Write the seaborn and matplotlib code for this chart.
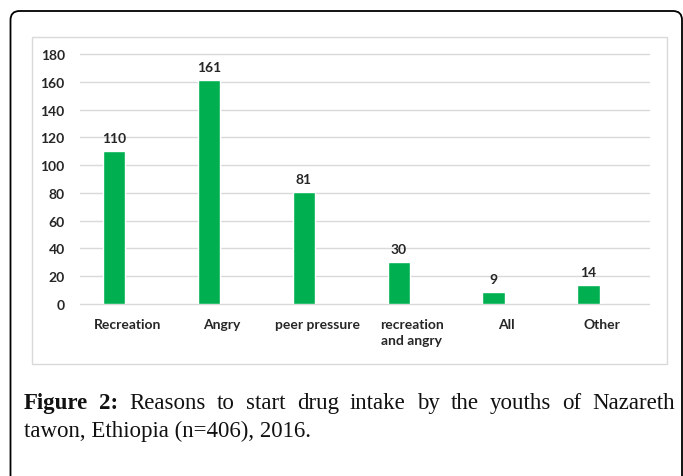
import matplotlib
matplotlib.use("Agg")
import matplotlib.pyplot as plt
import seaborn as sns
import pandas as pd
from matplotlib.patches import FancyBboxPatch, Rectangle

# ---- data ----
categories = ["Recreation", "Angry", "peer pressure", "recreation\nand angry", "All", "Other"]
counts = [110, 161, 81, 30, 9, 14]
y_ticks = [0, 20, 40, 60, 80, 100, 120, 140, 160, 180]
caption_bold = "Figure 2:"
caption_line1 = "Reasons to start drug intake by the youths of Nazareth"
caption_line2 = "tawon, Ethiopia (n=406), 2016."

# ---- layout / style ----
W, H = 683, 477
BAR_COLOR = "#00b050"
TEXT_COLOR = "#262626"
GRID_COLOR = "#d9d9d9"
BAR_WIDTH = 0.235
BAR_SHIFT = -0.139

sns.set_theme(style="white")
plt.rcParams['font.family'] = ['Lato', 'DejaVu Sans']

fig = plt.figure(figsize=(W / 100, H / 100), dpi=100)
fig.patch.set_facecolor('white')

# overlay axes in pixel coordinates (y downward)
ov = fig.add_axes([0, 0, 1, 1], zorder=0)
ov.set_xlim(0, W)
ov.set_ylim(H, 0)
ov.axis('off')
ov.add_patch(FancyBboxPatch((10.5, 12), 671.5, 540,
                            boxstyle="round,pad=0,rounding_size=9",
                            fill=False, ec='black', lw=1.3))
ov.add_patch(Rectangle((32, 38), 635, 327, fill=False, ec=GRID_COLOR, lw=1))

# main chart
ax = fig.add_axes([80 / W, 1 - 305 / H, 569 / W, 250 / H], zorder=1)
ax.patch.set_alpha(0)
df = pd.DataFrame({"reason": categories, "count": counts})
sns.barplot(data=df, x="reason", y="count", color=BAR_COLOR, saturation=1,
            width=BAR_WIDTH, errorbar=None, ax=ax, zorder=3)
for p in ax.patches:
    p.set_x(p.get_x() + BAR_SHIFT)

ax.bar_label(ax.containers[0], fontsize=10, fontweight='bold', color=TEXT_COLOR, padding=5)

ax.set_xlim(-0.5, len(categories) - 0.5)
ax.set_ylim(0, 180)
ax.set_yticks(y_ticks)
ax.set_xlabel('')
ax.set_ylabel('')
for s in ax.spines.values():
    s.set_visible(False)
ax.yaxis.grid(True, color=GRID_COLOR, lw=1)
ax.xaxis.grid(False)
ax.set_axisbelow(True)
for gl in ax.get_ygridlines():
    gl.set_clip_on(False)
ax.tick_params(axis='both', length=0, labelsize=10, labelcolor=TEXT_COLOR)
ax.tick_params(axis='x', pad=10)
ax.tick_params(axis='y', pad=11)
for t in ax.get_xticklabels() + ax.get_yticklabels():
    t.set_fontweight('bold')
for t in ax.get_xticklabels():
    t.set_linespacing(1.4)

# caption (justified first line)
serif = ['Liberation Serif', 'DejaVu Serif']
fs = 16.5
x0, x1 = 24, 675
yb1, yb2 = 409, 437
words = [(w, 'bold') for w in caption_bold.split()] + [(w, 'normal') for w in caption_line1.split()]
texts = [ov.text(0, yb1, w, fontsize=fs, fontweight=wt, family=serif,
                 va='baseline', ha='left', color='#111111') for w, wt in words]
fig.canvas.draw()
r = fig.canvas.get_renderer()
widths = [t.get_window_extent(r).width for t in texts]
gap = (x1 - x0 - sum(widths)) / (len(texts) - 1)
x = x0
for t, w in zip(texts, widths):
    t.set_x(x)
    x += w + gap
ov.text(x0, yb2, caption_line2, fontsize=fs, family=serif, va='baseline', ha='left', color='#111111')

fig.savefig("out.png", dpi=100, facecolor='white')
